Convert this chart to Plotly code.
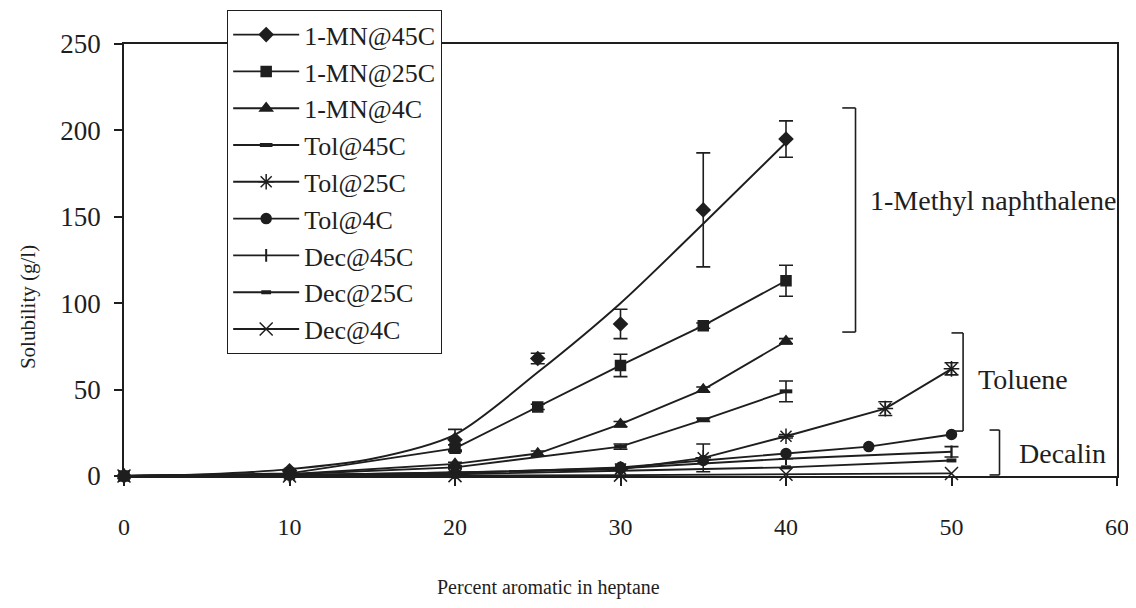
import plotly.graph_objects as go

# ---------------- data ----------------
x_mn = [0, 10, 20, 25, 30, 35, 40]
mn45 = [0, 3, 21, 68, 88, 154, 195]
mn45_err = [0, 0, 6, 3, 8.5, 33, 10.5]
# trend curve drawn for 1-MN@45C
mn45_trend_x = [0, 5, 10, 15, 20, 25, 30, 35, 40]
mn45_trend_y = [0, 1, 4, 10, 24, 60, 100, 146, 193]

mn25 = [0, 1.5, 16, 40, 64, 87, 113]
mn25_err = [0, 0, 2, 1.5, 6.5, 1.5, 9]
mn4 = [0, 1, 7, 13, 30, 50, 78]
mn4_err = [0, 0, 1, 1.5, 1.5, 1.5, 1.5]

x_tol45 = [0, 10, 20, 30, 35, 40]
tol45 = [0, 1, 5, 17, 32.5, 49]
tol45_err = [0, 0, 0.5, 1.5, 1, 6]

x_tol25 = [0, 10, 20, 30, 35, 40, 46, 50]
tol25 = [0, 0.5, 2, 4, 10.5, 23, 39, 62]
tol25_err = [0, 0, 0, 0.5, 8, 1, 4, 3.5]

x_tol4 = [0, 10, 20, 30, 35, 40, 45, 50]
tol4 = [0, 0.5, 1.5, 5, 9, 13, 17, 24]

x_dec = [0, 10, 20, 30, 40, 50]
dec45 = [0, 0.5, 2, 4.5, 10, 14]
dec45_err = [0, 0, 0, 0, 0, 3]
dec25 = [0, 0.3, 1, 3, 5, 9]
dec4 = [0, 0, 0.2, 0.5, 1, 1.5]

x_ticks = [0, 10, 20, 30, 40, 50, 60]
y_ticks = [0, 50, 100, 150, 200, 250]

FONT = "Liberation Serif"
INK = "#1e1e1e"
LW = 1.9

fig = go.Figure()


def err(vals):
    return dict(type="data", array=vals, visible=True, color=INK, thickness=1.6, width=7)


def series(x, y, name, symbol, size, e=None, mlw=1.5):
    fig.add_trace(go.Scatter(
        x=x, y=y, name=name, mode="lines+markers",
        line=dict(color=INK, width=LW),
        marker=dict(symbol=symbol, size=size, color=INK,
                    line=dict(color=INK, width=mlw)),
        error_y=err(e) if e is not None else None,
        cliponaxis=False,
    ))


# 1-MN@45C: legend proxy, trend curve, and markers with error bars
fig.add_trace(go.Scatter(x=[None], y=[None], name="1-MN@45C", mode="lines+markers",
                         line=dict(color=INK, width=LW),
                         marker=dict(symbol="diamond", size=12, color=INK)))
fig.add_trace(go.Scatter(x=mn45_trend_x, y=mn45_trend_y, mode="lines", showlegend=False,
                         line=dict(color=INK, width=LW, shape="spline", smoothing=0.8),
                         cliponaxis=False))
fig.add_trace(go.Scatter(x=x_mn, y=mn45, mode="markers", showlegend=False,
                         marker=dict(symbol="diamond", size=12, color=INK),
                         error_y=err(mn45_err), cliponaxis=False))

series(x_mn, mn25, "1-MN@25C", "square", 10, mn25_err)
series(x_mn, mn4, "1-MN@4C", "triangle-up", 11, mn4_err)
series(x_tol45, tol45, "Tol@45C", "line-ew-open", 9, tol45_err, mlw=4)
series(x_tol25, tol25, "Tol@25C", "asterisk-open", 13, tol25_err, mlw=1.5)
series(x_tol4, tol4, "Tol@4C", "circle", 10)
series(x_dec, dec45, "Dec@45C", "line-ns-open", 9, dec45_err, mlw=2)
series(x_dec, dec25, "Dec@25C", "line-ew-open", 7, mlw=4)
series(x_dec, dec4, "Dec@4C", "x-thin-open", 13, mlw=1.5)

# ---------------- brackets and labels ----------------
brackets = [  # (x_vertical, x_tick_end, y_low, y_high)
    (44.2, 43.4, 83.3, 213),
    (50.7, 50.0, 26, 82.8),
    (52.9, 52.3, 0.6, 26.6),
]
shapes = []
for xv, xt, y0, y1 in brackets:
    for seg in ((xv, xv, y0, y1), (xt, xv, y0, y0), (xt, xv, y1, y1)):
        shapes.append(dict(type="line", xref="x", yref="y",
                           x0=seg[0], x1=seg[1], y0=seg[2], y1=seg[3],
                           line=dict(color=INK, width=1.6)))

annotations = [
    dict(text="1-Methyl naphthalene", x=52.5, y=159.7, xref="x", yref="y", showarrow=False,
         xanchor="center", yanchor="middle", font=dict(family=FONT, size=28, color=INK)),
    dict(text="Toluene", x=54.3, y=55.6, xref="x", yref="y", showarrow=False,
         xanchor="center", yanchor="middle", font=dict(family=FONT, size=28, color=INK)),
    dict(text="Decalin", x=56.7, y=13.3, xref="x", yref="y", showarrow=False,
         xanchor="center", yanchor="middle", font=dict(family=FONT, size=28, color=INK)),
    dict(text="Solubility (g/l)", x=-0.0967, y=0.391, xref="paper", yref="paper",
         xanchor="center", yanchor="middle",
         showarrow=False, textangle=-90, font=dict(family=FONT, size=21, color=INK)),
    dict(text="Percent aromatic in heptane", x=0.427, y=-0.257, xref="paper", yref="paper",
         xanchor="center", yanchor="middle",
         showarrow=False, font=dict(family=FONT, size=20, color=INK)),
]

# the page body adds an 8 px margin, so the figure is 8 px smaller and margins shifted
fig.update_layout(
    width=1128, height=600, autosize=False,
    margin=dict(l=116, r=19, t=36, b=132, autoexpand=False),
    paper_bgcolor="white", plot_bgcolor="white",
    font=dict(family=FONT, color=INK),
    shapes=shapes, annotations=annotations,
    legend=dict(x=0.1037, y=1.0787, xanchor="left", yanchor="top",
                bgcolor="white", bordercolor=INK, borderwidth=1.2,
                font=dict(family=FONT, size=26, color=INK),
                tracegroupgap=0, itemwidth=66, maxheight=500),
    xaxis=dict(range=[0, 60], tickvals=x_ticks, showgrid=False, zeroline=False,
               showline=True, linecolor=INK, linewidth=1.5, mirror=True, automargin=False,
               ticks="outside", ticklen=8, tickcolor=INK, tickwidth=1.5,
               tickfont=dict(family=FONT, size=24, color=INK), ticklabelstandoff=20),
    yaxis=dict(range=[0, 250], tickvals=y_ticks, showgrid=False, zeroline=False,
               showline=True, linecolor=INK, linewidth=1.5, mirror=True, automargin=False,
               ticks="outside", ticklen=8, tickcolor=INK, tickwidth=1.5,
               tickfont=dict(family=FONT, size=27, color=INK), ticklabelstandoff=8),
)

fig.write_html("out.html")
